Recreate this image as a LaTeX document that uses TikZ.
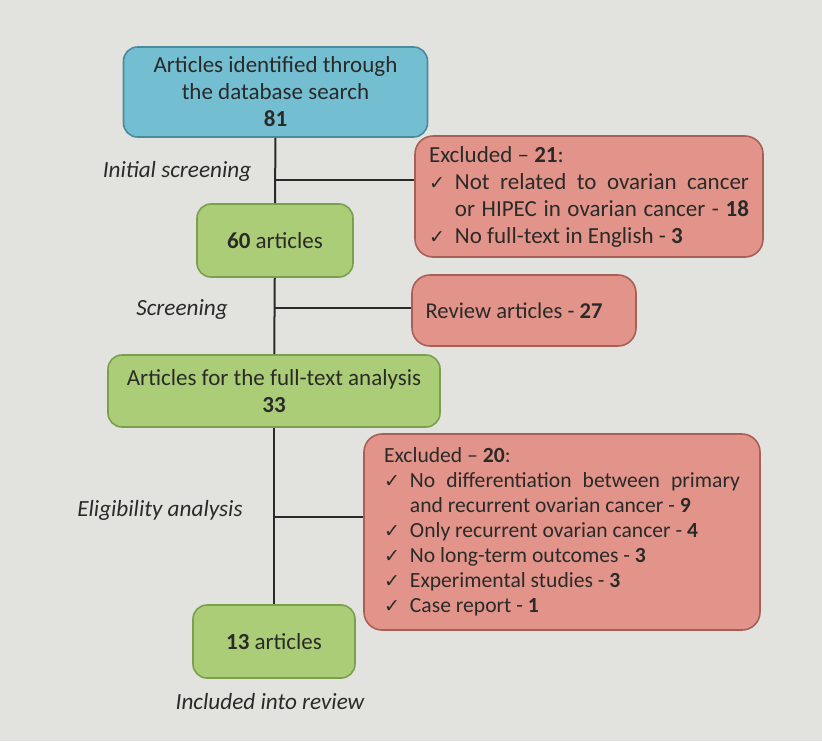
\documentclass[tikz,border=0pt]{standalone}
\usepackage{fontspec}
\setmainfont{Carlito}
\newfontfamily\symfont{DejaVu Sans}
\usetikzlibrary{positioning}

\definecolor{paper}{RGB}{226,226,222}
\definecolor{ink}{RGB}{42,42,40}
\definecolor{boxblue}{RGB}{116,190,210}
\definecolor{blueedge}{RGB}{72,138,158}
\definecolor{boxgreen}{RGB}{172,205,120}
\definecolor{greenedge}{RGB}{122,160,78}
\definecolor{boxred}{RGB}{226,148,138}
\definecolor{rededge}{RGB}{168,96,86}

\newcommand{\tick}{{\symfont\fontsize{9.5}{10}\selectfont ✓}\hspace{5pt}}
\newcommand{\indt}{\phantom{\tick}}

\begin{document}
\begin{tikzpicture}[x=0.5pt,y=0.5pt,yscale=-1,
  stage/.style = {draw=greenedge, fill=boxgreen, rounded corners=7pt,
  line width=0.8pt, text=ink, align=center,
  font=\fontsize{11.5}{13.5}\selectfont},
  source/.style = {stage, draw=blueedge, fill=boxblue},
  excl/.style = {draw=rededge, fill=boxred, rounded corners=9pt,
  line width=0.8pt, text=ink, align=left,
  font=\fontsize{11.3}{13}\selectfont},
  step label/.style = {text=ink, font=\fontsize{11.6}{13}\selectfont\itshape},
  flow/.style = {draw=ink, line width=1pt}
  ]

  % paper
  \fill[paper] (0,0) rectangle (822,741);

  % main stages
  \node[source, minimum width=152pt, minimum height=45pt] (found) at (275.5,92)
    {Articles identified through\\ the database search\\ \textbf{81}};
  \node[stage, minimum width=78pt, minimum height=36.5pt] (s60) at (275,240.5)
    {\textbf{60} articles};
  \node[stage, minimum width=166pt, minimum height=36pt] (full) at (274,391)
    {Articles for the full-text analysis\\ \textbf{33}};
  \node[stage, minimum width=81pt, minimum height=36.5pt] (s13) at (274,641.5)
    {\textbf{13} articles};

  % exclusions
  \node[excl, minimum width=174pt, minimum height=60.5pt,
    font=\fontsize{11.5}{13.5}\selectfont] (ex1) at (589,196.5)
    {Excluded -- \textbf{21}:\\
     \tick\makebox[147pt][s]{Not related to ovarian cancer}\\
     \indt\makebox[147pt][s]{or HIPEC in ovarian cancer - \textbf{18}}\\
     \tick No full-text in English - \textbf{3}};
  \node[excl, minimum width=112pt, minimum height=35.5pt] (rev) at (524,310.5)
    {Review articles - \textbf{27}\hspace{10pt}};
  \node[excl, minimum width=198pt, minimum height=98pt,
    font=\fontsize{10.8}{12.5}\selectfont] (ex3) at (562,532)
    {Excluded -- \textbf{20}:\\
     \tick\makebox[165pt][s]{No differentiation between primary}\\
     \indt and recurrent ovarian cancer - \textbf{9}\\
     \tick Only recurrent ovarian cancer - \textbf{4}\\
     \tick No long-term outcomes - \textbf{3}\\
     \tick Experimental studies - \textbf{3}\\
     \tick Case report - \textbf{1}};

  % branch points on the trunk
  \coordinate (b1) at (275,180);
  \coordinate (b2) at (275,308);
  \coordinate (b3) at (275,517);

  \draw[flow] (found) -- (s60);
  \draw[flow] (s60) -- (full);
  \draw[flow] (full) -- (s13);
  \draw[flow] (b1) -- (b1 -| ex1.west);
  \draw[flow] (b2) -- (b2 -| rev.west);
  \draw[flow] (b3) -- (b3 -| ex3.west);

  % step labels
  \node[step label] (l1) at (177,171) {Initial screening};
  \node[step label] (l2) at (182,309) {Screening};
  \node[step label] (l3) at (160,510) {Eligibility analysis};
  \node[step label] (l4) at (270,702) {Included into review};

\end{tikzpicture}
\end{document}
